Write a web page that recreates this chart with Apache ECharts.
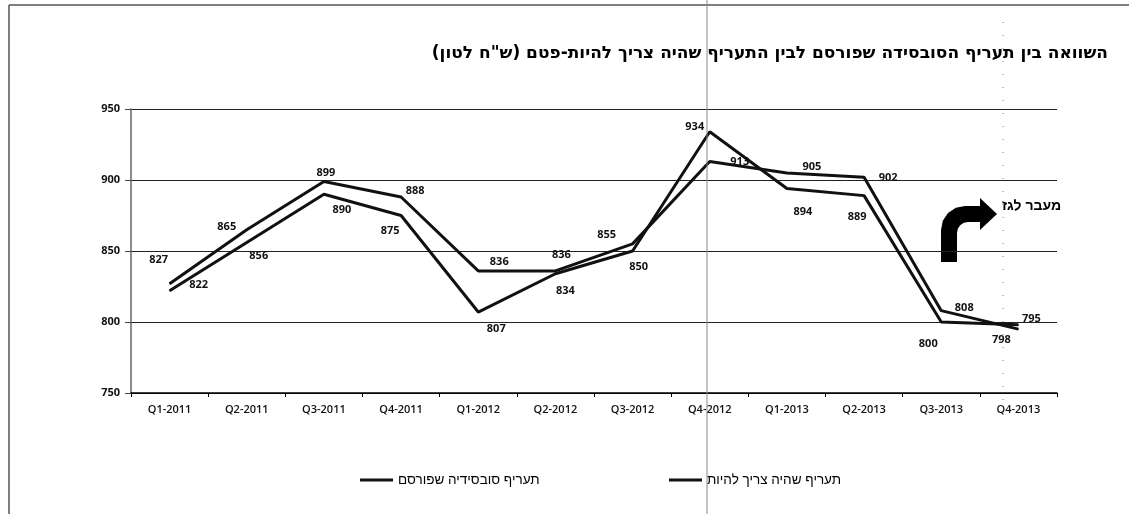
<!DOCTYPE html>
<html lang="he">
<head>
<meta charset="UTF-8">
<title>chart</title>
<script src="https://cdn.jsdelivr.net/npm/echarts@6/dist/echarts.min.js"></script>
<style>
    * { margin: 0; padding: 0; }
    body { background: #fff; }
    #main { width: 1129px; height: 514px; }
</style>
</head>
<body>
<div id="main"></div>
<script>
    // quarters on the x axis
    var quarters = ['Q1-2011', 'Q2-2011', 'Q3-2011', 'Q4-2011', 'Q1-2012', 'Q2-2012',
        'Q3-2012', 'Q4-2012', 'Q1-2013', 'Q2-2013', 'Q3-2013', 'Q4-2013'];

    // series values (ש"ח לטון)
    var published = [827, 865, 899, 888, 836, 836, 855, 913, 905, 902, 808, 795];
    var shouldBe = [822, 856, 890, 875, 807, 834, 850, 934, 894, 889, 800, 798];

    var yTicks = [750, 800, 850, 900, 950];

    var namePublished = 'תעריף סובסידיה שפורסם';
    var nameShouldBe = 'תעריף שהיה צריך להיות';

    // where each value label sits relative to its point (like the hand-moved excel labels)
    var offPublished = [[-11, -24], [-20, -3], [2, -9], [14, -6], [21, -9], [6, -16],
        [-26, -9], [30, 0], [25, -6], [24, 1], [23, -3], [13, -10]];
    var offShouldBe = [[29, -6], [12, 13], [18, 16], [-11, 15], [18, 17], [10, 17],
        [6, 16], [-15, -5], [16, 23], [-7, 21], [-13, 22], [-17, 15]];

    function withLabels(vals, offs) {
        var out = [];
        for (var i = 0; i < vals.length; i++) {
            out.push({ value: vals[i], label: { offset: offs[i] } });
        }
        return out;
    }

    var lbl = {
        show: true,
        position: 'inside',
        align: 'center',
        verticalAlign: 'middle',
        color: '#111',
        fontFamily: 'Open Sans',
        fontWeight: 'bold',
        fontSize: 11
    };

    var chart = echarts.init(document.getElementById('main'));

    chart.setOption({
        animation: false,
        backgroundColor: '#fff',
        title: {
            text: '\u200Fהשוואה בין תעריף הסובסידה שפורסם לבין התעריף שהיה צריך להיות-פטם (ש"ח לטון)\u200F',
            right: 16,
            top: 40,
            textStyle: { fontFamily: 'DejaVu Sans', fontWeight: 'bold', fontSize: 17, color: '#000' }
        },
        legend: [{
            left: 360, top: 473, padding: 0,
            data: [namePublished],
            icon: 'rect', itemWidth: 33, itemHeight: 3, itemGap: 4,
            textStyle: { fontFamily: 'Liberation Sans', fontSize: 13.5, color: '#000' }
        }, {
            left: 669, top: 473, padding: 0,
            data: [nameShouldBe],
            icon: 'rect', itemWidth: 33, itemHeight: 3, itemGap: 4,
            textStyle: { fontFamily: 'Liberation Sans', fontSize: 13.5, color: '#000' }
        }],
        grid: { left: 131, right: 72, top: 109, bottom: 121 },
        xAxis: {
            type: 'category',
            data: quarters,
            boundaryGap: true,
            axisLine: { lineStyle: { color: '#000', width: 1.5 } },
            axisTick: { show: true, length: 4, lineStyle: { color: '#000' } },
            axisLabel: { margin: 11, color: '#111', fontFamily: 'Open Sans', fontWeight: 600, fontSize: 11 }
        },
        yAxis: {
            type: 'value',
            min: yTicks[0],
            max: yTicks[yTicks.length - 1],
            interval: 50,
            axisLine: { show: true, lineStyle: { color: '#666', width: 1.5 } },
            axisTick: { show: true, length: 6, lineStyle: { color: '#444' } },
            axisLabel: { margin: 11, color: '#111', fontFamily: 'Open Sans', fontWeight: 'bold', fontSize: 11 },
            splitLine: { lineStyle: { color: '#222', width: 1 } }
        },
        series: [{
            name: namePublished,
            type: 'line',
            data: withLabels(published, offPublished),
            symbol: 'circle',
            symbolSize: 1,
            itemStyle: { color: '#111' },
            lineStyle: { color: '#111', width: 3 },
            label: lbl,
            z: 3
        }, {
            name: nameShouldBe,
            type: 'line',
            data: withLabels(shouldBe, offShouldBe),
            symbol: 'circle',
            symbolSize: 1,
            itemStyle: { color: '#111' },
            lineStyle: { color: '#111', width: 3 },
            label: lbl,
            z: 3
        }],
        graphic: [
            // page frame from the scan
            { type: 'line', shape: { x1: 9, y1: 5, x2: 9, y2: 514 }, style: { stroke: '#555', lineWidth: 1.5 } },
            { type: 'line', shape: { x1: 9, y1: 5, x2: 1129, y2: 5 }, style: { stroke: '#555', lineWidth: 1.5 } },
            { type: 'line', shape: { x1: 707, y1: 0, x2: 707, y2: 514 }, style: { stroke: '#888', lineWidth: 1 }, z: 10 },
            { type: 'line', shape: { x1: 1003, y1: 22, x2: 1003, y2: 402 }, style: { stroke: '#777', lineWidth: 1, lineDash: [1, 12] } },
            // bent arrow
            {
                type: 'polygon',
                shape: {
                    points: [[941, 262], [941, 230], [942.8, 220.8], [948, 213], [955.8, 207.8], [965, 206],
                        [980, 206], [980, 198], [997, 214], [980, 230], [980, 222], [968, 222],
                        [963.8, 222.8], [960.2, 225.2], [957.8, 228.8], [957, 233], [957, 262]]
                },
                style: { fill: '#000' }
            },
            {
                type: 'text',
                left: 1002,
                top: 199,
                style: { text: 'מעבר לגז', fill: '#000', font: 'bold 14px "Liberation Sans"' }
            }
        ]
    });
</script>
</body>
</html>
